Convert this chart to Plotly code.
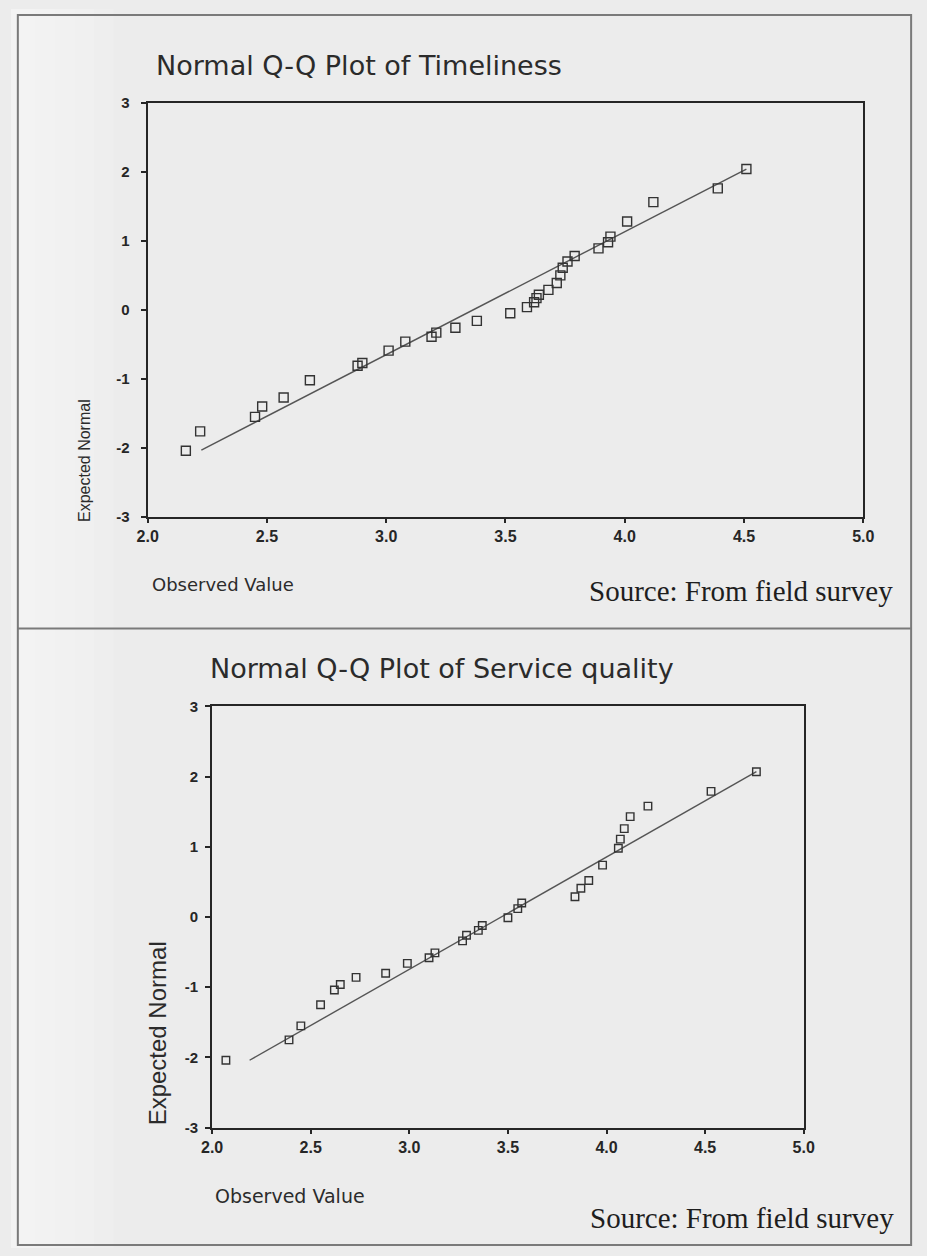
import plotly.graph_objects as go

W, H = 927, 1256

# --- Timeliness: observed values and their expected normal scores ---
timeliness_observed = [2.16, 2.22, 2.45, 2.48, 2.57, 2.68, 2.88, 2.90, 3.01, 3.08,
                       3.19, 3.21, 3.29, 3.38, 3.52, 3.59, 3.62, 3.63, 3.64, 3.68,
                       3.715, 3.73, 3.74, 3.76, 3.79, 3.89, 3.93, 3.94, 4.01, 4.12,
                       4.39, 4.51]
timeliness_expected = [-2.04, -1.76, -1.55, -1.40, -1.27, -1.02, -0.81, -0.77, -0.59, -0.46,
                       -0.39, -0.33, -0.26, -0.16, -0.05, 0.04, 0.11, 0.17, 0.22, 0.29,
                       0.39, 0.50, 0.61, 0.70, 0.78, 0.89, 0.98, 1.06, 1.28, 1.56,
                       1.76, 2.04]
timeliness_line_x = [2.225, 4.51]
timeliness_line_y = [-2.03, 2.04]

# --- Service quality: observed values and their expected normal scores ---
service_observed = [2.07, 2.39, 2.45, 2.55, 2.62, 2.65, 2.73, 2.88, 2.99, 3.10,
                    3.13, 3.27, 3.29, 3.35, 3.37, 3.50, 3.55, 3.57, 3.84, 3.87,
                    3.91, 3.98, 4.06, 4.07, 4.09, 4.12, 4.21, 4.53, 4.76]
service_expected = [-2.04, -1.75, -1.55, -1.25, -1.04, -0.96, -0.86, -0.80, -0.66, -0.58,
                    -0.51, -0.34, -0.26, -0.19, -0.12, -0.01, 0.12, 0.20, 0.29, 0.41,
                    0.52, 0.74, 0.98, 1.11, 1.26, 1.43, 1.58, 1.79, 2.07]
service_line_x = [2.19, 4.76]
service_line_y = [-2.04, 2.07]

# --- axis ticks ---
x_ticks = [2.0, 2.5, 3.0, 3.5, 4.0, 4.5, 5.0]
x_tick_labels = ["2.0", "2.5", "3.0", "3.5", "4.0", "4.5", "5.0"]
y_ticks = [-3, -2, -1, 0, 1, 2, 3]
y_tick_labels = ["-3", "-2", "-1", "0", "1", "2", "3"]

titles = ["Normal Q-Q Plot of Timeliness", "Normal Q-Q Plot of Service quality"]
x_title = "Observed Value"
y_title = "Expected Normal"
source_note = "Source: From field survey"

INK = "#262626"
SANS = "Liberation Sans, Arial, sans-serif"
WIDE = "DejaVu Sans, sans-serif"
SERIF = "Liberation Serif, Times New Roman, serif"


def px(x):
    return x / W


def py(y):
    return 1 - y / H


fig = go.Figure()

# scatter points and reference lines
for xa, ya, obs, exp, lx, ly, msize in [
    ("x", "y", timeliness_observed, timeliness_expected, timeliness_line_x, timeliness_line_y, 9),
    ("x2", "y2", service_observed, service_expected, service_line_x, service_line_y, 7.5),
]:
    fig.add_trace(go.Scatter(x=lx, y=ly, mode="lines", xaxis=xa, yaxis=ya,
                             line=dict(color="#555555", width=1.4),
                             showlegend=False, hoverinfo="skip"))
    fig.add_trace(go.Scatter(x=obs, y=exp, mode="markers", xaxis=xa, yaxis=ya,
                             marker=dict(symbol="square-open", size=msize,
                                         color="#333333", line=dict(width=1.4, color="#333333")),
                             showlegend=False))


def xaxis_cfg(domain, anchor, fsize):
    return dict(domain=domain, anchor=anchor, range=[2, 5],
                tickmode="array", tickvals=x_ticks, ticktext=x_tick_labels,
                showline=True, mirror=True, linecolor=INK, linewidth=2,
                ticks="outside", ticklen=4, tickwidth=2, tickcolor=INK,
                showgrid=False, zeroline=False,
                tickfont=dict(family=SANS, size=fsize, color=INK, weight="bold"))


def yaxis_cfg(domain, anchor, standoff):
    return dict(domain=domain, anchor=anchor, range=[-3, 3],
                tickmode="array", tickvals=y_ticks, ticktext=y_tick_labels,
                showline=True, mirror=True, linecolor=INK, linewidth=2,
                ticks="outside", ticklen=5, tickwidth=2, tickcolor=INK,
                ticklabelstandoff=standoff,
                showgrid=False, zeroline=False,
                tickfont=dict(family=SANS, size=15, color=INK, weight="bold"))


# plot frames
fig.update_layout(
    xaxis=xaxis_cfg([px(140), px(873)], "y", 16),
    yaxis=yaxis_cfg([py(515), py(95)], "x", 8),
    xaxis2=xaxis_cfg([px(206), px(812)], "y2", 16),
    yaxis2=yaxis_cfg([py(1134), py(707)], "x2", 4),
)

shapes = []
# soft light band along the left edge of the page
for x1 in [25, 45, 65, 85, 105]:
    shapes.append(dict(type="rect", xref="paper", yref="paper",
                       x0=0, x1=px(x1), y0=0, y1=1,
                       fillcolor="white", opacity=0.12, line=dict(width=0), layer="below"))
# outer box and divider between the two panels
shapes.append(dict(type="rect", xref="paper", yref="paper",
                   x0=px(7), x1=px(922), y0=py(1253), y1=py(6),
                   line=dict(color="#7a7a7a", width=2)))
shapes.append(dict(type="line", xref="paper", yref="paper",
                   x0=px(7), x1=px(922), y0=py(628), y1=py(628),
                   line=dict(color="#7a7a7a", width=2)))

annotations = []
# panel titles
annotations.append(dict(text=titles[0], x=px(146), y=py(57), xref="paper", yref="paper",
                        xanchor="left", yanchor="middle", showarrow=False,
                        font=dict(family=WIDE, size=27, color="#2b2b2b")))
annotations.append(dict(text=titles[1], x=px(202), y=py(669), xref="paper", yref="paper",
                        xanchor="left", yanchor="middle", showarrow=False,
                        font=dict(family=WIDE, size=27, color="#2b2b2b")))
# x-axis titles
annotations.append(dict(text=x_title, x=px(142), y=py(583), xref="paper", yref="paper",
                        xanchor="left", yanchor="middle", showarrow=False,
                        font=dict(family=WIDE, size=18, color="#2b2b2b")))
annotations.append(dict(text=x_title, x=px(207), y=py(1203), xref="paper", yref="paper",
                        xanchor="left", yanchor="middle", showarrow=False,
                        font=dict(family=WIDE, size=19, color="#2b2b2b")))
# y-axis titles
annotations.append(dict(text=y_title, x=px(76), y=py(458), xref="paper", yref="paper",
                        xanchor="center", yanchor="middle", textangle=-90, showarrow=False,
                        font=dict(family=SANS, size=16, color="#2b2b2b")))
annotations.append(dict(text=y_title, x=px(151), y=py(1038), xref="paper", yref="paper",
                        xanchor="center", yanchor="middle", textangle=-90, showarrow=False,
                        font=dict(family=SANS, size=24, color="#2b2b2b")))
# source notes
annotations.append(dict(text=source_note, x=px(905), y=py(590), xref="paper", yref="paper",
                        xanchor="right", yanchor="middle", showarrow=False,
                        font=dict(family=SERIF, size=29, color="#1e1e1e")))
annotations.append(dict(text=source_note, x=px(907), y=py(1226), xref="paper", yref="paper",
                        xanchor="right", yanchor="middle", showarrow=False,
                        font=dict(family=SERIF, size=29, color="#1e1e1e")))

fig.update_layout(
    width=W, height=H, autosize=False,
    margin=dict(l=0, r=0, t=0, b=0),
    paper_bgcolor="#ececec", plot_bgcolor="rgba(0,0,0,0)",
    shapes=shapes, annotations=annotations,
    showlegend=False,
)

fig.write_html("out.html")
